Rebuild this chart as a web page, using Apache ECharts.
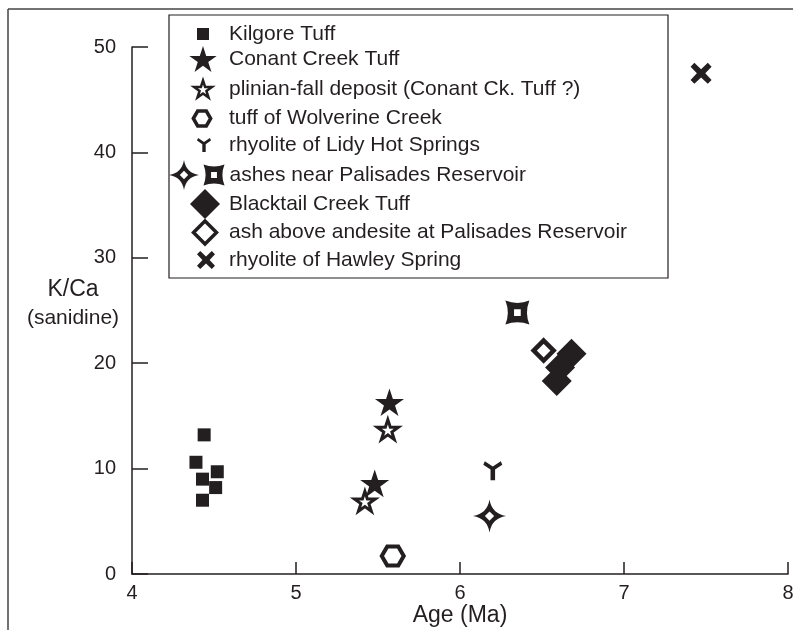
<!DOCTYPE html>
<html><head><meta charset="utf-8">
<script src="https://cdn.jsdelivr.net/npm/echarts@6/dist/echarts.min.js"></script>
<style>html,body{margin:0;padding:0;background:#fff}#c{width:793px;height:630px}</style>
</head><body><div id="c"></div>
<script>
// ---------- data ----------
const xTickLabels = [4, 5, 6, 7, 8];
const yTickLabels = [0, 10, 20, 30, 40, 50];
const xAxisTitle = 'Age (Ma)';
const yAxisTitleMain = 'K/Ca';
const yAxisTitleSub = '(sanidine)';

const seriesNames = [
  'Kilgore Tuff',
  'Conant Creek Tuff',
  'plinian-fall deposit (Conant Ck. Tuff ?)',
  'tuff of Wolverine Creek',
  'rhyolite of Lidy Hot Springs',
  'ashes near Palisades Reservoir (4-point)',
  'ashes near Palisades Reservoir',
  'Blacktail Creek Tuff',
  'ash above andesite at Palisades Reservoir',
  'rhyolite of Hawley Spring'
];

const kilgoreTuff = [[4.44, 13.2], [4.39, 10.6], [4.52, 9.7], [4.43, 9.0], [4.51, 8.2], [4.43, 7.0]];
const conantCreekTuff = [[5.57, 16.3], [5.48, 8.6]];
const plinianFall = [[5.56, 13.7], [5.42, 6.9]];
const wolverineCreek = [[5.59, 1.7]];
const lidyHotSprings = [[6.20, 9.8]];
const ashesPalisadesA = [[6.18, 5.5]];
const ashesPalisadesB = [[6.35, 24.8]];
const blacktailCreek = [[6.68, 20.9], [6.61, 19.6], [6.59, 18.3]];
const ashAboveAndesite = [[6.51, 21.2]];
const hawleySpring = [[7.47, 47.5]];

// ---------- styling ----------
const INK = '#231f20';
const FONT = '"Liberation Sans", Arial, Helvetica, sans-serif';
const P = {
  square: 'path://M0 0L100 0L100 100L0 100Z',
  star: 'path://M50 0L61.23 34.55L97.55 34.55L68.17 55.9L79.39 90.45L50 69.1L20.61 90.45L31.83 55.9L2.45 34.55L38.77 34.55Z',
  hexagon: 'path://M0 43.3L25 0L75 0L100 43.3L75 86.6L25 86.6Z',
  yShape: 'path://M8 0L50 28L92 0L100 18L62 44L62 100L38 100L38 44L0 18Z',
  star4: 'path://M50 0Q57 43 100 50Q57 57 50 100Q43 57 0 50Q43 43 50 0ZM50 36L36 50L50 64L64 50Z',
  starSq: 'path://M0 0Q50 20 100 0Q80 50 100 100Q50 80 0 100Q20 50 0 0ZM36 36L36 64L64 64L64 36Z',
  diamond: 'path://M50 0L100 50L50 100L0 50Z',
  cross: 'path://M0 18L18 0L50 30L82 0L100 18L70 50L100 82L82 100L50 70L18 100L0 82L30 50Z'
};
// aspect (width / height) of each path's bounding box
const ASPECT = { square: 1, star: 95.1 / 90.45, hexagon: 100 / 86.6, yShape: 1, star4: 1, starSq: 1, diamond: 1, cross: 1 };

function sc(name, data, symbol, size, hollowBorder) {
  return {
    type: 'scatter', name: name, data: data, symbol: P[symbol], symbolSize: size,
    symbolKeepAspect: true, silent: true, emphasis: { disabled: true },
    itemStyle: hollowBorder
      ? { color: '#fff', borderColor: INK, borderWidth: hollowBorder, opacity: 1 }
      : { color: INK, borderWidth: 0, opacity: 1 }
  };
}

const series = [
  sc(seriesNames[0], kilgoreTuff, 'square', 13),
  sc(seriesNames[1], conantCreekTuff, 'star', 29),
  sc(seriesNames[2], plinianFall, 'star', 21, 3),
  sc(seriesNames[3], wolverineCreek, 'hexagon', 22, 4),
  sc(seriesNames[4], lidyHotSprings, 'yShape', 19),
  sc(seriesNames[5], ashesPalisadesA, 'star4', 33),
  sc(seriesNames[6], ashesPalisadesB, 'starSq', 24),
  sc(seriesNames[8], ashAboveAndesite, 'diamond', 20, 4.5),
  sc(seriesNames[7], blacktailCreek, 'diamond', 30),
  sc(seriesNames[9], hawleySpring, 'cross', 21)
];

// legend rows: [series index, symbol, icon centre x, centre y, icon height, hollow border, showText]
const legendLayout = [
  [0, 'square', 203, 33.5, 12, 0, true],
  [1, 'star', 203, 59, 26, 0, true],
  [2, 'star', 203, 88.5, 17, 2.5, true],
  [3, 'hexagon', 202, 118, 15, 3.5, true],
  [4, 'yShape', 204, 144.5, 14, 0, true],
  [5, 'star4', 184, 175, 30, 0, false],
  [6, 'starSq', 214, 175, 21, 0, true],
  [7, 'diamond', 205, 204, 30, 0, true],
  [8, 'diamond', 205, 232.5, 23, 3.5, true],
  [9, 'cross', 206, 259.5, 18, 0, true]
];
const TEXT_X = 229;
const legends = legendLayout.map(function (r) {
  const h = r[4], w = h * ASPECT[r[1]], lw = r[5], cx = r[2], cy = r[3];
  const pad = r[6] ? Math.max(0, TEXT_X - (cx + w / 2 + 5)) : 0;
  return {
    show: true, orient: 'vertical', padding: 0, selectedMode: false,
    left: cx - w / 2 - lw / 2, top: cy - Math.max(h + lw, 20) / 2,
    itemWidth: w, itemHeight: h, itemGap: 0, symbolKeepAspect: true,
    data: [{ name: seriesNames[r[0]], icon: P[r[1]] }],
    formatter: r[6] ? '{name}' : function () { return ''; },
    textStyle: { fontFamily: FONT, fontSize: 21, color: INK, lineHeight: 20, padding: [0, 0, 0, pad] },
    itemStyle: lw
      ? { color: '#fff', borderColor: INK, borderWidth: lw, opacity: 1 }
      : { color: INK, borderWidth: 0, opacity: 1 }
  };
});

const chart = echarts.init(document.getElementById('c'), null, { renderer: 'canvas' });
chart.setOption({
  backgroundColor: '#fff',
  animation: false,
  grid: { left: 132, right: 5, top: 47, bottom: 56, containLabel: false, outerBoundsMode: 'none' },
  xAxis: {
    type: 'value',
    min: xTickLabels[0], max: xTickLabels[xTickLabels.length - 1], interval: 1,
    name: xAxisTitle, nameLocation: 'middle', nameGap: 30, nameMoveOverlap: false,
    nameTextStyle: { fontFamily: FONT, fontSize: 23, color: INK },
    axisLine: { show: true, onZero: false, lineStyle: { color: INK, width: 1.5 } },
    axisTick: { show: true, inside: true, length: 12, lineStyle: { color: INK, width: 1.5 } },
    axisLabel: { show: true, margin: 9, fontFamily: FONT, fontSize: 20, color: INK, showMaxLabel: true, showMinLabel: true, hideOverlap: false },
    splitLine: { show: false }
  },
  yAxis: {
    type: 'value',
    min: yTickLabels[0], max: yTickLabels[yTickLabels.length - 1], interval: 10,
    name: '{a|' + yAxisTitleMain + '}\n{b|' + yAxisTitleSub + '}',
    nameLocation: 'middle', nameRotate: 0, nameGap: 59, nameMoveOverlap: false,
    nameTextStyle: {
      align: 'center', verticalAlign: 'middle', padding: [0, 0, 14, 0],
      rich: {
        a: { fontFamily: FONT, fontSize: 23, color: INK, lineHeight: 30, align: 'center' },
        b: { fontFamily: FONT, fontSize: 21, color: INK, lineHeight: 28, align: 'center' }
      }
    },
    axisLine: { show: true, onZero: false, lineStyle: { color: INK, width: 1.5 } },
    axisTick: { show: true, inside: true, length: 16, lineStyle: { color: INK, width: 1.5 } },
    axisLabel: { show: true, margin: 16, fontFamily: FONT, fontSize: 20, color: INK },
    splitLine: { show: false }
  },
  legend: legends,
  graphic: [
    { type: 'line', shape: { x1: 8, y1: 9, x2: 793, y2: 9 }, style: { stroke: '#444', lineWidth: 1.5 }, z: 1, silent: true },
    { type: 'line', shape: { x1: 8, y1: 9, x2: 8, y2: 630 }, style: { stroke: '#444', lineWidth: 1.5 }, z: 1, silent: true },
    { type: 'rect', shape: { x: 169, y: 15, width: 499, height: 263 }, style: { fill: '#fff', stroke: INK, lineWidth: 1.2 }, z: 3, silent: true }
  ],
  series: series
});
</script>
</body></html>
